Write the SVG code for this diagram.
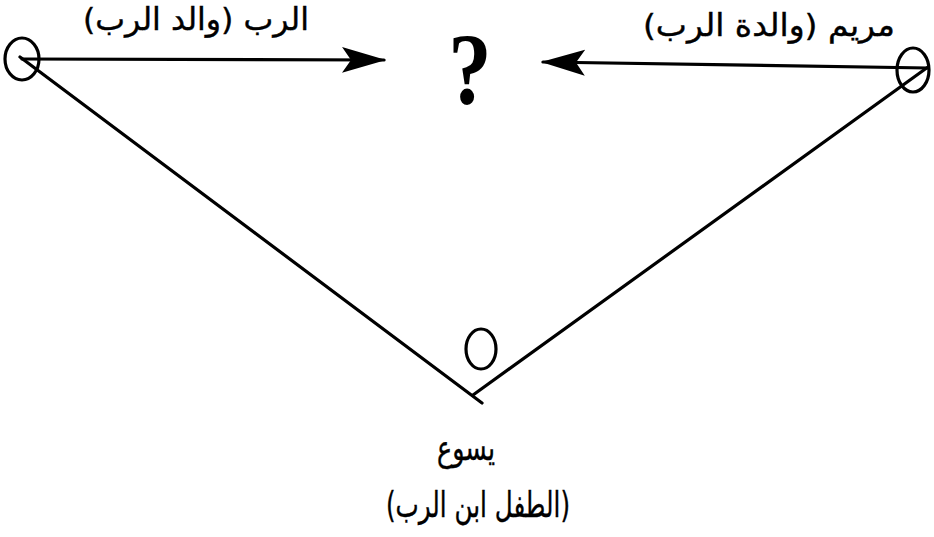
<svg xmlns="http://www.w3.org/2000/svg" width="934" height="537" viewBox="0 0 934 537">
<style>
.ln{stroke:#000;stroke-width:3.2;fill:none;stroke-linecap:round}
.nd{stroke:#000;stroke-width:3.2;fill:none}
.ar{font-family:"DejaVu Sans",sans-serif;font-size:31px;fill:#000;stroke:#000;stroke-width:0.4;direction:rtl;text-anchor:middle}
.big{font-size:35px}
.q{font-family:"Liberation Serif",serif;font-size:102px;font-weight:bold;fill:#000;text-anchor:middle}
</style>
<defs>
<marker id="ah" viewBox="0 0 44 28" refX="42" refY="14" markerWidth="44" markerHeight="28" markerUnits="userSpaceOnUse" orient="auto">
<path d="M0,1 L44,14 L0,27 L9,14 Z" fill="#000"/>
</marker>
</defs>
<rect width="934" height="537" fill="#fff"/>
<g id="connectors">
<line class="ln" x1="22" y1="59" x2="384" y2="60" marker-end="url(#ah)"/>
<line class="ln" x1="928" y1="68" x2="543" y2="62" marker-end="url(#ah)"/>
<line class="ln" x1="20" y1="57" x2="482" y2="403"/>
<line class="ln" x1="928" y1="67" x2="473" y2="395"/>
</g>
<g id="god">
<ellipse class="nd" cx="22" cy="59" rx="17" ry="21"/>
<text class="ar" x="196" y="30" textLength="226" lengthAdjust="spacingAndGlyphs">الرب (والد الرب)</text>
</g>
<g id="mary">
<ellipse class="nd" cx="913" cy="70" rx="16" ry="22"/>
<text class="ar" x="769" y="36" textLength="252" lengthAdjust="spacingAndGlyphs">مريم (والدة الرب)</text>
</g>
<g id="unknown">
<text class="q" transform="translate(470 0) scale(0.85 1)" x="0" y="104">?</text>
</g>
<g id="jesus">
<ellipse class="nd" cx="481" cy="349" rx="15" ry="20"/>
<text class="ar big" x="466" y="460" textLength="58" lengthAdjust="spacingAndGlyphs">يسوع</text>
<text class="ar big" x="478" y="517" textLength="184" lengthAdjust="spacingAndGlyphs">(الطفل ابن الرب)</text>
</g>
</svg>
